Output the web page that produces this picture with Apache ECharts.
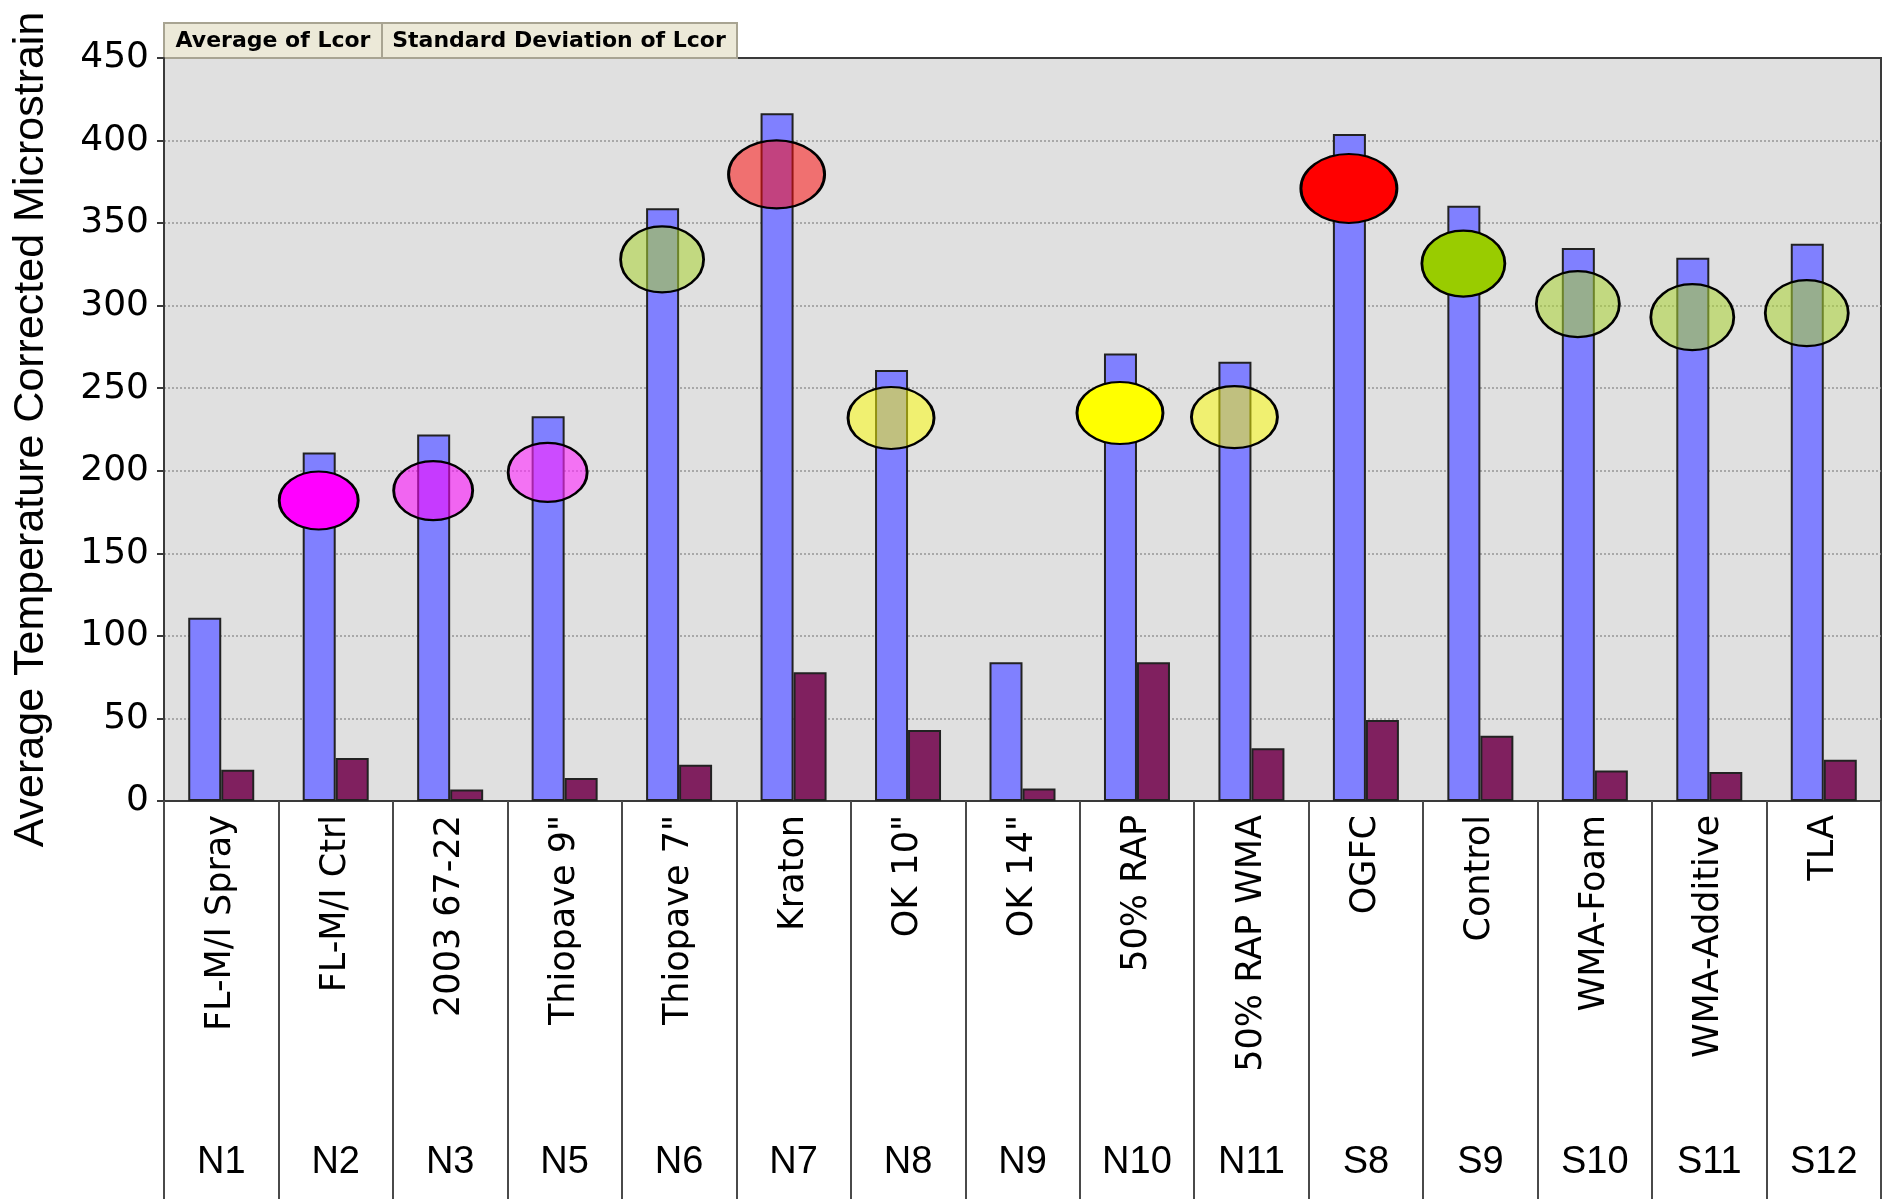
<!DOCTYPE html>
<html><head><meta charset="utf-8">
<script src="https://cdn.jsdelivr.net/npm/echarts@6/dist/echarts.min.js"></script>
<style>html,body{margin:0;padding:0;background:#fff}#c{width:1888px;height:1199px}</style>
</head><body><div id="c"></div>
<script>
// ---- data ----
const categories = ['FL-M/I Spray','FL-M/I Ctrl','2003 67-22','Thiopave 9"','Thiopave 7"','Kraton','OK 10"','OK 14"','50% RAP','50% RAP WMA','OGFC','Control','WMA-Foam','WMA-Additive','TLA'];
const sectionIds = ['N1','N2','N3','N5','N6','N7','N8','N9','N10','N11','S8','S9','S10','S11','S12'];
const averageLcor = [111, 211, 222, 233, 359, 416.5, 261, 84, 271, 266, 404, 360.5, 335, 329, 337.5];
const stdDevLcor = [19, 26, 7, 14, 22, 78, 43, 7.5, 84, 32, 49, 39.5, 18.5, 17.5, 25];
const markerValues = [null, 182, 188, 199, 328, 379.5, 232, null, 235, 232.5, 371, 325.5, 301, 293, 295.5];
const markerKind = [null,'magentaSolid','magentaDots','magentaGrid','greenTexture','redTint','yellowVLines',null,'yellowSolid','yellowHLines','redSolid','greenSolid','greenTexture','greenTexture','greenTexture'];
const yMin = 0, yMax = 450, yStep = 50;
const seriesNames = ['Average of Lcor', 'Standard Deviation of Lcor'];
const yTitle = 'Average Temperature Corrected Microstrain';

// ---- styles ----
const markerStyles = {
  magentaSolid: { size: [79, 58], color: '#FF00FF' },
  magentaDots: { size: [79, 59], color: 'rgba(255,0,255,0.55)' },
  magentaGrid: { size: [79, 59], color: 'rgba(255,40,255,0.6)' },
  greenTexture: { size: [83, 66], color: 'rgba(170,212,50,0.55)' },
  redTint: { size: [96, 68], color: 'rgba(255,10,10,0.52)' },
  yellowVLines: { size: [86, 62], color: 'rgba(255,255,0,0.5)' },
  yellowSolid: { size: [86, 62], color: '#FFFF00' },
  yellowHLines: { size: [86, 62], color: 'rgba(255,255,0,0.5)' },
  redSolid: { size: [96, 69], color: '#FF0000' },
  greenSolid: { size: [83, 66], color: '#99CC00' }
};
const ellipsePath = 'path://M0,50A50,50,0,1,1,100,50A50,50,0,1,1,0,50Z';

const markerData = markerValues.map((v, i) => {
  if (v == null) return '-';
  const st = markerStyles[markerKind[i]];
  return { value: v, symbolSize: st.size, itemStyle: { color: st.color } };
});

const chart = echarts.init(document.getElementById('c'), null, { renderer: 'canvas' });
const FONT = '"Liberation Sans", Arial, sans-serif';
const WIDE = '"DejaVu Sans", sans-serif';
chart.setOption({
  animation: false,
  backgroundColor: '#ffffff',
  grid: { left: 164, right: 7, top: 58, bottom: 398, show: true, backgroundColor: '#E0E0E0', borderColor: '#3a3a3a', borderWidth: 2 },
  xAxis: [
    {
      type: 'category', data: categories, position: 'bottom',
      axisLine: { lineStyle: { color: '#3a3a3a', width: 2 } },
      axisTick: { show: true, length: 400, lineStyle: { color: '#4a4a4a', width: 2 } },
      axisLabel: { rotate: 90, margin: 14, fontSize: 35, fontFamily: WIDE, color: '#000', interval: 0 }
    },
    {
      type: 'category', data: sectionIds, position: 'bottom', offset: 362,
      axisLine: { show: false }, axisTick: { show: false },
      axisLabel: { margin: 0, fontSize: 38, fontFamily: FONT, color: '#000', interval: 0, verticalAlign: 'middle' }
    }
  ],
  yAxis: {
    type: 'value', min: yMin, max: yMax, interval: yStep,
    name: yTitle, nameLocation: 'middle', nameRotate: 90, nameGap: 111,
    nameTextStyle: { fontSize: 43, fontFamily: FONT, color: '#000' },
    axisLine: { show: true, lineStyle: { color: '#3a3a3a', width: 2 } },
    axisTick: { show: true, length: 7, lineStyle: { color: '#3a3a3a', width: 2 } },
    axisLabel: { margin: 15, fontSize: 36, fontFamily: WIDE, color: '#000' },
    splitLine: { show: true, showMinLine: false, showMaxLine: false, lineStyle: { color: '#959595', width: 1.5, type: [2, 2] } }
  },
  series: [
    { name: seriesNames[0], type: 'bar', data: averageLcor, barWidth: 33, barGap: '0%',
      itemStyle: { color: '#8080FF', borderColor: '#222', borderWidth: 2 } },
    { name: seriesNames[1], type: 'bar', data: stdDevLcor, barWidth: 33, barGap: '0%',
      itemStyle: { color: '#80205F', borderColor: '#222', borderWidth: 2 } },
    { name: 'Marker', type: 'scatter', data: markerData, symbol: ellipsePath, symbolOffset: [-17, 0],
      itemStyle: { borderColor: '#000', borderWidth: 2.5, opacity: 1 }, z: 5 }
  ],
  graphic: [
    { type: 'group', left: 163, top: 22, children: [
      { type: 'rect', shape: { x: 0, y: 0, width: 218, height: 35 }, style: { fill: '#ECE9D8', stroke: '#A8A492', lineWidth: 2 } },
      { type: 'text', x: 109, y: 18, style: { text: seriesNames[0], font: 'bold 22px "DejaVu Sans", sans-serif', fill: '#000', align: 'center', verticalAlign: 'middle', textAlign: 'center', textVerticalAlign: 'middle' } },
      { type: 'rect', shape: { x: 218, y: 0, width: 355, height: 35 }, style: { fill: '#ECE9D8', stroke: '#A8A492', lineWidth: 2 } },
      { type: 'text', x: 395, y: 18, style: { text: seriesNames[1], font: 'bold 22px "DejaVu Sans", sans-serif', fill: '#000', align: 'center', verticalAlign: 'middle', textAlign: 'center', textVerticalAlign: 'middle' } }
    ] }
  ]
});
</script>
</body></html>
